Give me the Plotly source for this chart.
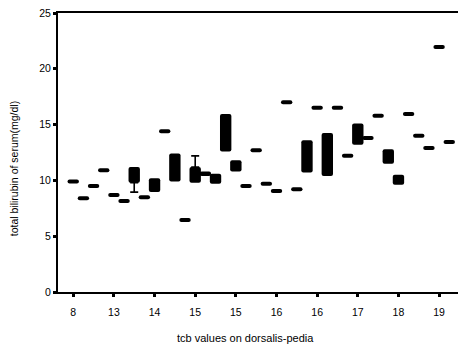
import plotly.graph_objects as go

# ---- data ----
tick_labels = ["8", "13", "14", "15", "15", "16", "16", "17", "18", "19"]
tick_positions = [0, 4, 8, 12, 16, 20, 24, 28, 32, 36]

lows = [9.9, 8.4, 9.5, 10.9, 8.7, 8.15, 9.8, 8.5, 8.95, 14.4,
        9.9, 6.45, 9.8, 10.4, 9.7, 12.6, 10.8, 9.5, 12.7, 9.7,
        9.05, 17.0, 9.2, 10.7, 16.5, 10.4, 16.5, 12.2, 13.2, 13.8,
        15.8, 11.5, 9.6, 15.95, 14.0, 12.9, 21.95, 13.45]
highs = [9.9, 8.4, 9.5, 10.9, 8.7, 8.15, 11.2, 8.5, 10.2, 14.4,
         12.4, 6.45, 11.2, 10.8, 10.6, 15.95, 11.8, 9.5, 12.7, 9.7,
         9.05, 17.0, 9.2, 13.6, 16.5, 14.25, 16.5, 12.2, 15.1, 13.8,
         15.8, 12.8, 10.5, 15.95, 14.0, 12.9, 21.95, 13.45]

whisker_idx = [6, 12]
whisker_from = [9.8, 11.2]
whisker_to = [8.95, 12.2]

# ---- build marks ----
min_h = 0.36
xs = list(range(len(lows)))
bases, heights = [], []
for lo, hi in zip(lows, highs):
    if hi - lo < min_h:
        mid = (lo + hi) / 2
        bases.append(mid - min_h / 2)
        heights.append(min_h)
    else:
        bases.append(lo)
        heights.append(hi - lo)

fig = go.Figure()
fig.add_trace(go.Bar(x=xs, y=heights, base=bases, width=1.12,
                     marker=dict(color="black", line=dict(width=0)),
                     hoverinfo="skip"))
fig.add_trace(go.Scatter(
    x=whisker_idx, y=whisker_from, mode="markers",
    marker=dict(size=1, color="black"),
    error_y=dict(type="data", symmetric=False,
                 array=[max(t - f, 0) for f, t in zip(whisker_from, whisker_to)],
                 arrayminus=[max(f - t, 0) for f, t in zip(whisker_from, whisker_to)],
                 width=4, thickness=1.6, color="black"),
    hoverinfo="skip"))

font_family = "Liberation Sans, Arial, sans-serif"
fig.update_layout(
    width=463, height=345,
    margin=dict(l=58, r=5, t=13, b=53),
    paper_bgcolor="white", plot_bgcolor="white",
    showlegend=False,
    barcornerradius=2,
    font=dict(family=font_family, color="black", size=10),
    xaxis=dict(range=[-1.5, 37.86], tickvals=tick_positions, ticktext=tick_labels,
               ticks="outside", ticklen=3, tickwidth=3, tickcolor="black",
               showline=True, linewidth=2, linecolor="black", mirror=True,
               showgrid=False, zeroline=False, ticklabelstandoff=6,
               tickfont=dict(size=10.5)),
    yaxis=dict(range=[0, 25], tickvals=[0, 5, 10, 15, 20, 25],
               ticks="outside", ticklen=3, tickwidth=3, tickcolor="black",
               showline=True, linewidth=2, linecolor="black",
               showgrid=False, zeroline=False, tickfont=dict(size=10.5)),
)
fig.add_annotation(text="total bilirubin of serum(mg/dl)", xref="paper", yref="paper",
                   x=-0.11, y=0.44, textangle=-90, showarrow=False,
                   font=dict(size=10.5), xanchor="center", yanchor="middle")
fig.add_annotation(text="tcb values on dorsalis-pedia", xref="paper", yref="paper",
                   x=0.4675, y=-0.165, showarrow=False,
                   font=dict(size=11), xanchor="center", yanchor="middle")

fig.write_html("out.html")
